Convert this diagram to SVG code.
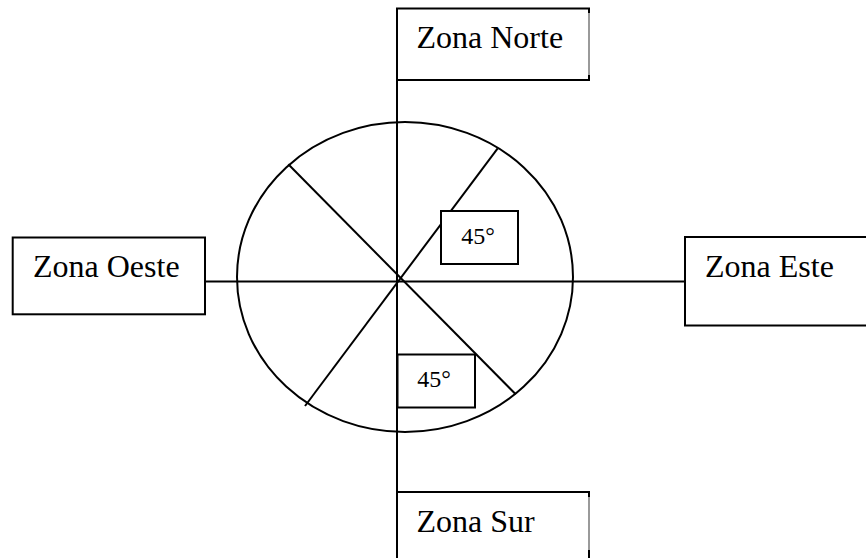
<svg xmlns="http://www.w3.org/2000/svg" width="866" height="558" viewBox="0 0 866 558">
<style>
.ln{stroke:#000;stroke-width:2;fill:none}
.box{fill:#fff;stroke:#000;stroke-width:2}
.edge{stroke:#9a9a9a;stroke-width:2}
.lbl{font-family:"Liberation Serif","Times New Roman",serif;font-size:32px;fill:#000}
.ang{font-family:"Liberation Serif","Times New Roman",serif;font-size:24px;fill:#000;text-anchor:middle}
</style>
<rect width="866" height="558" fill="#fff"/>
<g id="connectors">
<line class="ln" x1="397" y1="80" x2="397" y2="558"/>
<line class="ln" x1="205" y1="281.5" x2="685" y2="281.5"/>
</g>
<g id="circle">
<ellipse class="ln" cx="405" cy="277" rx="168" ry="155"/>
<line class="ln" x1="497.7" y1="148.3" x2="305" y2="406"/>
<line class="ln" x1="288.3" y1="164.3" x2="515.7" y2="394.3"/>
</g>
<g id="angle-ne">
<rect class="box" x="441" y="211" width="77" height="53"/>
<text class="ang" x="478" y="244">45°</text>
</g>
<g id="angle-s">
<rect class="box" x="397.5" y="354.5" width="77.5" height="53"/>
<text class="ang" x="434" y="386.5">45°</text>
</g>
<g id="zona-norte">
<rect class="box" x="397" y="8.5" width="192" height="71.5"/>
<line class="edge" x1="589" y1="13" x2="589" y2="75"/>
<text class="lbl" x="416.5" y="48.3">Zona Norte</text>
</g>
<g id="zona-oeste">
<rect class="box" x="12.7" y="237.5" width="192.3" height="76.8"/>
<text class="lbl" x="33" y="277.3">Zona Oeste</text>
</g>
<g id="zona-este">
<rect class="box" x="685" y="237" width="200" height="88.5"/>
<text class="lbl" x="705" y="277.3">Zona Este</text>
</g>
<g id="zona-sur">
<rect class="box" x="397" y="492" width="192" height="80"/>
<line class="edge" x1="589" y1="497" x2="589" y2="550"/>
<text class="lbl" x="416.5" y="531.7">Zona Sur</text>
</g>
</svg>
